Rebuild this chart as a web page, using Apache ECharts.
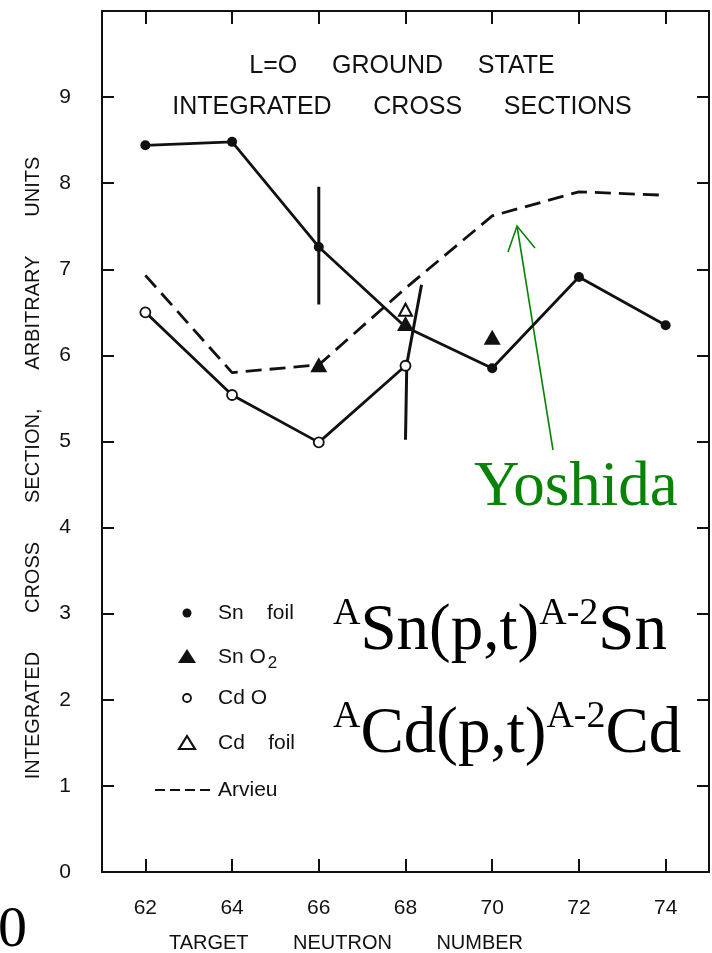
<!DOCTYPE html>
<html><head><meta charset="utf-8">
<script src="https://cdn.jsdelivr.net/npm/echarts@6/dist/echarts.min.js"></script>
<style>html,body{margin:0;padding:0;background:#fff}#c{width:712px;height:953px}</style>
</head><body><div id="c"></div>
<script>
const xTicks = [62, 64, 66, 68, 70, 72, 74];
const yTicks = [0, 1, 2, 3, 4, 5, 6, 7, 8, 9];
const yTicksRight = [1, 2, 3, 4, 5, 6, 7, 8, 9];
const snFoil = [[62, 8.44], [64, 8.48], [66, 7.26], [68, 6.33], [70, 5.85], [72, 6.91], [74, 6.35]];
const snO2 = [[66, 5.89], [68, 6.37], [70, 6.21]];
const cdO = [[62, 6.50], [64, 5.54], [66, 4.99], [68, 5.88]];
const cdFoil = [[68, 6.53]];
const arvieu = [[62, 6.93], [64, 5.80], [66, 5.89], [68, 6.78], [70, 7.62], [72, 7.90], [74, 7.86]];
const errBar66 = [[66, 7.96], [66, 6.59]];
const errBar68 = [[68.37, 6.82], [68.03, 5.90], [68.0, 5.02]];
const legendLabels = ['Sn    foil', 'Sn O', 'Cd O', 'Cd    foil', 'Arvieu'];
const titleLines = ['L=O     GROUND     STATE', 'INTEGRATED      CROSS      SECTIONS'];
const xName = 'TARGET        NEUTRON        NUMBER';
const yName = 'INTEGRATED       CROSS       SECTION,       ARBITRARY       UNITS';
const reactions = [['A', 'Sn(p,t)', 'A-2', 'Sn'], ['A', 'Cd(p,t)', 'A-2', 'Cd']];
const noteText = 'Yoshida';
const strayText = '0';

const SANS = 'Liberation Sans';
const SERIF = 'Liberation Serif';
const INK = '#111';
const GREEN = '#078407';

const chart = echarts.init(document.getElementById('c'), null, {renderer: 'canvas'});

function axisCommon() {
  return {
    type: 'value',
    axisLine: {show: true, onZero: false, lineStyle: {color: INK, width: 2}},
    splitLine: {show: false}
  };
}

const xBottom = Object.assign(axisCommon(), {
  min: 61, max: 75, position: 'bottom',
  axisTick: {show: true, inside: true, length: 13, customValues: xTicks, lineStyle: {color: INK, width: 2}},
  axisLabel: {show: true, customValues: xTicks, fontFamily: SANS, fontSize: 21, color: INK, margin: 26}
});
const xTop = Object.assign(axisCommon(), {
  min: 61, max: 75, position: 'top',
  axisTick: {show: true, inside: true, length: 13, customValues: xTicks, lineStyle: {color: INK, width: 2}},
  axisLabel: {show: false}
});
const yLeft = Object.assign(axisCommon(), {
  min: 0, max: 10, position: 'left',
  axisTick: {show: true, inside: true, length: 12, customValues: yTicks, lineStyle: {color: INK, width: 2}},
  axisLabel: {show: true, customValues: yTicks, fontFamily: SANS, fontSize: 21, color: INK, margin: 31}
});
const yRight = Object.assign(axisCommon(), {
  min: 0, max: 10, position: 'right',
  axisTick: {show: true, inside: true, length: 12, customValues: yTicksRight, lineStyle: {color: INK, width: 2}},
  axisLabel: {show: false}
});

const lineW = 2.8;
const series = [
  {
    name: 'Arvieu', type: 'line', data: arvieu, symbol: 'none', z: 2,
    lineStyle: {color: INK, width: lineW, type: [16, 8]}
  },
  {
    name: 'Sn foil', type: 'line', z: 3,
    data: snFoil.map(p => p[0] === 68 ? {value: p, symbol: 'none'} : p),
    symbol: 'circle', symbolSize: 10,
    itemStyle: {color: INK, borderWidth: 0, opacity: 1},
    lineStyle: {color: INK, width: lineW}
  },
  {
    name: 'CdO', type: 'line', data: cdO, z: 3,
    symbol: 'circle', symbolSize: 10,
    itemStyle: {color: '#fff', borderColor: INK, borderWidth: 1.8, opacity: 1},
    lineStyle: {color: INK, width: lineW}
  },
  {
    name: 'SnO2', type: 'scatter', data: snO2, z: 4,
    symbol: 'triangle', symbolSize: [17, 15],
    itemStyle: {color: INK, opacity: 1}
  },
  {
    name: 'Cd foil', type: 'scatter', data: cdFoil, z: 4,
    symbol: 'triangle', symbolSize: [13, 12],
    itemStyle: {color: '#fff', borderColor: INK, borderWidth: 2, opacity: 1}
  },
  {
    name: 'err66', type: 'line', data: errBar66, symbol: 'none', z: 3,
    lineStyle: {color: INK, width: 3}
  },
  {
    name: 'err68', type: 'line', data: errBar68, symbol: 'none', z: 3,
    lineStyle: {color: INK, width: 3}
  }
];

// legend drawn as graphic
const legX = 187, legTextX = 218;
const legY = [613, 657, 698, 743, 790];
const legendGraphics = [
  {type: 'circle', shape: {cx: legX, cy: legY[0], r: 4.5}, style: {fill: INK}},
  {type: 'polygon', shape: {points: [[legX, legY[1] - 8], [legX - 9, legY[1] + 6], [legX + 9, legY[1] + 6]]}, style: {fill: INK}},
  {type: 'circle', shape: {cx: legX, cy: legY[2], r: 4}, style: {fill: '#fff', stroke: INK, lineWidth: 1.8}},
  {type: 'polygon', shape: {points: [[legX, legY[3] - 7], [legX - 8, legY[3] + 6], [legX + 8, legY[3] + 6]]}, style: {fill: '#fff', stroke: INK, lineWidth: 2.2}},
  {type: 'line', shape: {x1: 155, y1: legY[4], x2: 211, y2: legY[4]}, style: {stroke: INK, lineWidth: 2.2, lineDash: [10, 5]}}
];
legendLabels.forEach((lab, i) => {
  if (i === 1) {
    legendGraphics.push({
      type: 'text', x: legTextX, y: legY[i],
      style: {
        text: '{m|' + lab + '}{s|2}', verticalAlign: 'middle', align: 'left',
        rich: {m: {fontFamily: SANS, fontSize: 21, fill: INK}, s: {fontFamily: SANS, fontSize: 17, fill: INK, padding: [12, 0, 0, 2]}}
      }
    });
  } else {
    legendGraphics.push({
      type: 'text', x: legTextX, y: legY[i],
      style: {text: lab, fontFamily: SANS, fontSize: 21, fill: INK, verticalAlign: 'middle', align: 'left'}
    });
  }
});

const reactRich = {
  b: {fontFamily: SERIF, fontSize: 65, fill: '#000', lineHeight: 74},
  s: {fontFamily: SERIF, fontSize: 38, fill: '#000', verticalAlign: 'top', lineHeight: 54}
};
const reactGraphics = reactions.map((r, i) => ({
  type: 'text', x: 333, y: [632, 735][i],
  style: {
    text: '{s|' + r[0] + '}{b|' + r[1] + '}{s|' + r[2] + '}{b|' + r[3] + '}',
    rich: reactRich, align: 'left', verticalAlign: 'middle'
  }
}));

const graphics = [].concat(
  [
    {type: 'text', x: 402, y: 66, style: {text: titleLines[0], fontFamily: SANS, fontSize: 25, fill: INK, align: 'center', verticalAlign: 'middle'}},
    {type: 'text', x: 402, y: 107, style: {text: titleLines[1], fontFamily: SANS, fontSize: 25, fill: INK, align: 'center', verticalAlign: 'middle'}},
    {type: 'text', x: 346, y: 943, style: {text: xName, fontFamily: SANS, fontSize: 20, fill: INK, align: 'center', verticalAlign: 'middle'}},
    {type: 'text', x: 33, y: 468, rotation: Math.PI / 2, style: {text: yName, fontFamily: SANS, fontSize: 20, fill: INK, align: 'center', verticalAlign: 'middle'}},
    {type: 'text', x: 27, y: 931, style: {text: strayText, fontFamily: SERIF, fontSize: 58, fill: '#000', align: 'right', verticalAlign: 'middle'}},
    {type: 'text', x: 474, y: 488, style: {text: noteText, fontFamily: SERIF, fontSize: 63, fill: GREEN, align: 'left', verticalAlign: 'middle'}},
    {type: 'polyline', shape: {points: [[553, 450], [517, 226]]}, style: {stroke: GREEN, lineWidth: 1.6}},
    {type: 'polyline', shape: {points: [[508, 252], [517, 226], [535, 248]]}, style: {stroke: GREEN, lineWidth: 1.6, fill: null}}
  ],
  legendGraphics,
  reactGraphics
);

chart.setOption({
  backgroundColor: '#fff',
  animation: false,
  grid: {left: 102, right: 3, top: 11, bottom: 81, containLabel: false},
  xAxis: [xBottom, xTop],
  yAxis: [yLeft, yRight],
  series: series,
  graphic: graphics
});
</script>
</body></html>
